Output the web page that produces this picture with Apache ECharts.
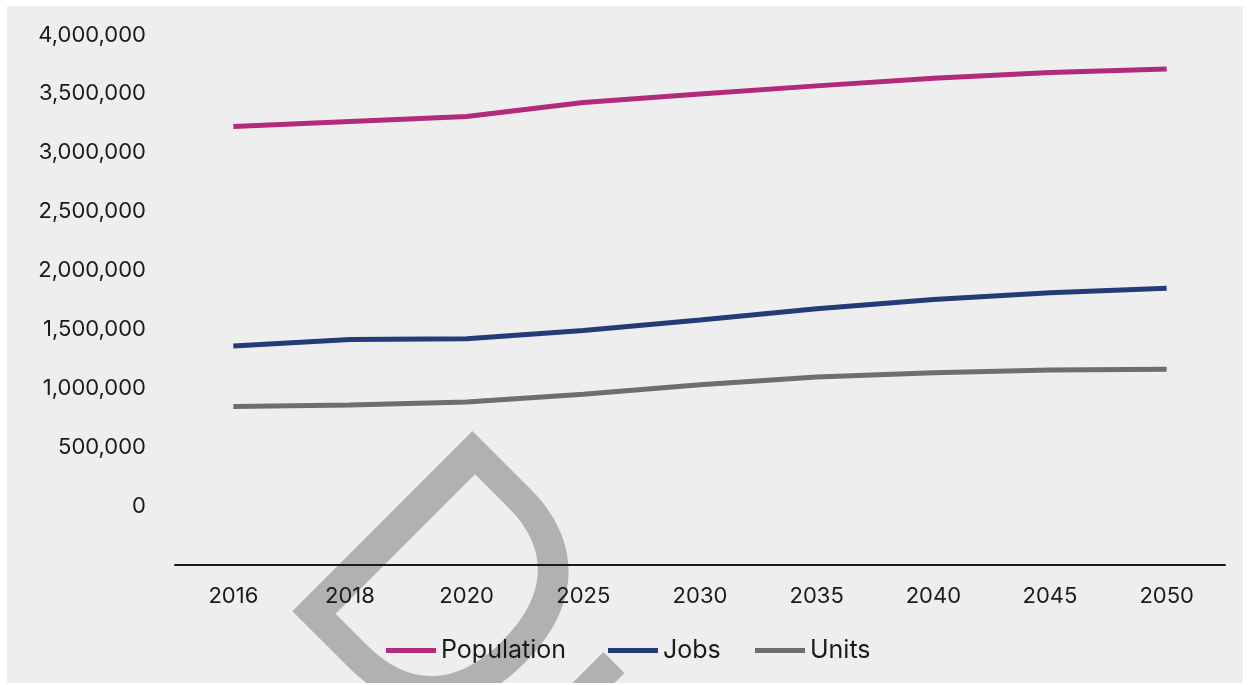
<!DOCTYPE html>
<html>
<head>
<meta charset="utf-8">
<script src="https://cdn.jsdelivr.net/npm/echarts@6/dist/echarts.min.js"></script>
<style>
  html, body { margin: 0; padding: 0; background: #ffffff; }
  #chart { position: absolute; left: 7px; top: 6px; width: 1236px; height: 677px; background: #eeeeee; }
</style>
</head>
<body>
<div id="chart"></div>
<script>
const years = ['2016', '2018', '2020', '2025', '2030', '2035', '2040', '2045', '2050'];
const population = [3223000, 3265000, 3308000, 3426000, 3500000, 3568000, 3633000, 3681000, 3712000];
const jobs = [1359000, 1415000, 1421000, 1492000, 1581000, 1675000, 1754000, 1811000, 1850000];
const units = [845000, 859000, 884000, 949000, 1030000, 1096000, 1133000, 1155000, 1161000];
const seriesNames = ['Population', 'Jobs', 'Units'];
const colors = ['#b22a7a', '#253b77', '#6e6d73'];

const FONT = 'Inter';
const chart = echarts.init(document.getElementById('chart'));
const mk = (name, data, color) => ({
  name, type: 'line', data, smooth: false, showSymbol: false, symbol: 'none',
  lineStyle: { color, width: 5 }, itemStyle: { color }, z: 3
});
const legendLefts = [379, 601, 748];
const legends = seriesNames.map((n, i) => ({
  data: [n], left: legendLefts[i], top: 632, padding: 0,
  itemWidth: 50, itemHeight: 5, icon: 'rect',
  textStyle: { fontFamily: FONT, fontSize: 25, color: '#1a1a1a' }
}));
chart.setOption({
  animation: false,
  backgroundColor: '#eeeeee',
  textStyle: { fontFamily: FONT },
  graphic: [{
    type: 'text', x: 338, y: 509, rotation: -Math.PI / 4, z: -10, silent: true,
    style: { text: 'Draft', fill: '#b1b1b1', font: '350px Inter', align: 'left', verticalAlign: 'middle' }
  }],
  grid: { left: 168, right: 18, top: 29, bottom: 118, containLabel: false },
  legend: legends,
  xAxis: {
    type: 'category', data: years, boundaryGap: true,
    axisLine: { onZero: false, lineStyle: { color: '#1a1a1a', width: 2 } },
    axisTick: { show: false },
    axisLabel: { margin: 20, fontFamily: FONT, fontSize: 22, color: '#1a1a1a' }
  },
  yAxis: {
    type: 'value', min: -500000, max: 4000000, interval: 500000,
    axisLine: { show: false }, axisTick: { show: false }, splitLine: { show: false },
    axisLabel: {
      margin: 29, fontFamily: FONT, fontSize: 22, color: '#1a1a1a',
      formatter: v => v < 0 ? '' : v.toLocaleString('en-US')
    }
  },
  series: [mk(seriesNames[0], population, colors[0]), mk(seriesNames[1], jobs, colors[1]), mk(seriesNames[2], units, colors[2])]
});
</script>
</body>
</html>
